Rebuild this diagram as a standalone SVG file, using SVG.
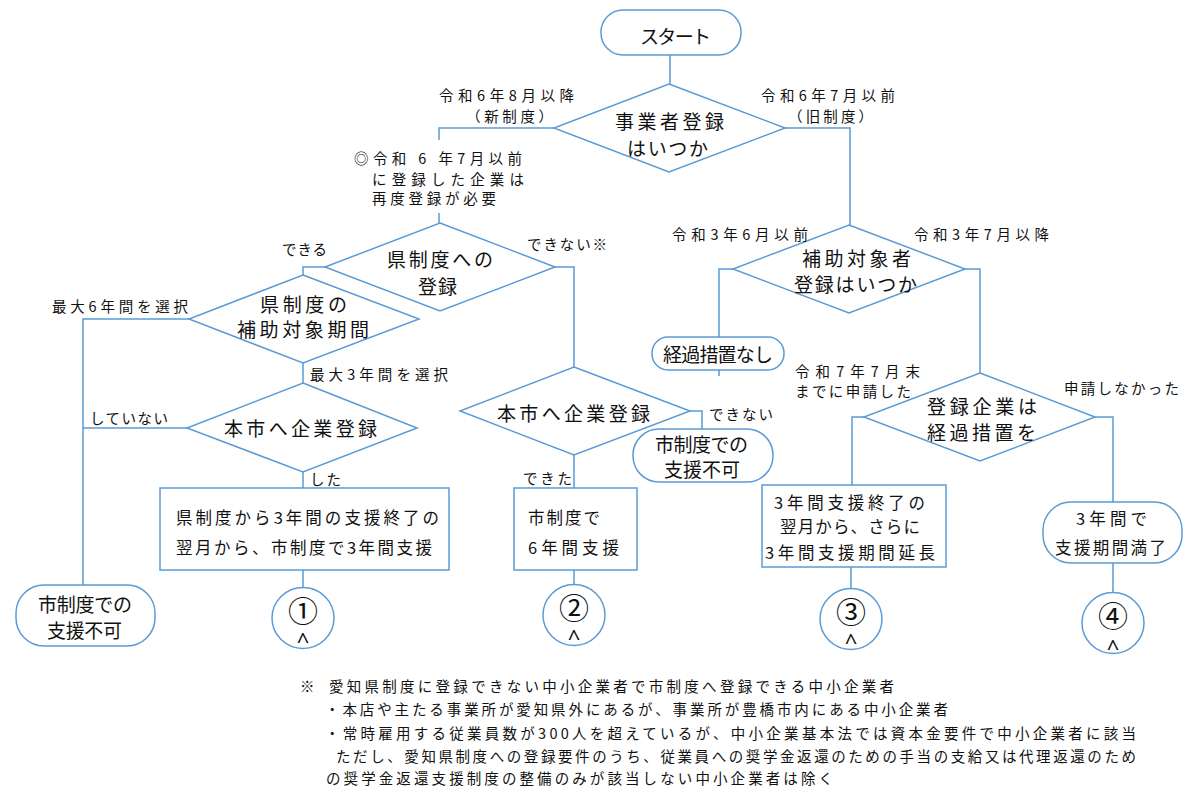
<svg xmlns="http://www.w3.org/2000/svg" width="1201" height="803" viewBox="0 0 1201 803">
<style>
.s{fill:#fff;stroke:#5b9bd5;stroke-width:1.5}
.c{fill:none;stroke:#5b9bd5;stroke-width:1.5}
text{font-family:"Noto Sans CJK JP","Noto Sans",sans-serif;fill:#111;dominant-baseline:central}
.n{font-size:19px}
.l{font-size:14.5px}
.b{font-size:16.5px}
.num{font-size:30px;text-anchor:middle}
.car{font-family:"Noto Sans","DejaVu Sans",sans-serif;font-size:22px;text-anchor:middle;dominant-baseline:auto}
</style>
<rect width="1201" height="803" fill="#fff"/>
<g id="connectors">
<path class="c" d="M670 55V84M554 128H439V140M439 213V223M785 128H850V225M325 267H303V275M555 267H574V367M189 319H83V585M303 363V383M187 428H83M303 472V488M303 570V587M690 411H702V429M574 455V488M574 570V584M733 269H719V376M965 269H980V373M864 417H852V485M1095 417H1113V502M851 567V588M1113 563V593"/>
</g>
<g id="start"><rect class="s" x="601" y="10" width="140" height="45" rx="22"/><text class="n" x="640" y="35" textLength="71">スタート</text></g>
<g id="d1"><polygon class="s" points="669,84 785,128 669,172 554,128"/><text class="n" x="615" y="120" textLength="109">事業者登録</text><text class="n" x="627" y="147" textLength="81">はいつか</text></g>
<g id="lbl-top">
<text class="l" x="439" y="94" textLength="135">令和6年8月以降</text>
<text class="l" x="466" y="115" textLength="87">（新制度）</text>
<text class="l" x="761" y="94" textLength="134">令和6年7月以前</text>
<text class="l" x="788" y="115" textLength="85">（旧制度）</text>
<text class="l" x="354" y="157" textLength="168">◎令和 6 年7月以前</text>
<text class="l" x="372" y="178" textLength="152">に登録した企業は</text>
<text class="l" x="372" y="197" textLength="124">再度登録が必要</text>
</g>
<g id="d2"><polygon class="s" points="440,223 555,267 440,311 325,267"/><text class="n" x="387" y="258" textLength="106">県制度への</text><text class="n" x="418" y="285" textLength="39">登録</text></g>
<g id="lbl-d2"><text class="l" x="282" y="248" textLength="45">できる</text><text class="l" x="527" y="243" textLength="80">できない※</text></g>
<g id="d4"><polygon class="s" points="303,275 419,319 303,363 189,319"/><text class="n" x="260" y="303" textLength="87">県制度の</text><text class="n" x="237" y="328" textLength="132">補助対象期間</text></g>
<g id="lbl-d4"><text class="l" x="52" y="305" textLength="136">最大6年間を選択</text><text class="l" x="310" y="373" textLength="138">最大3年間を選択</text></g>
<g id="d5"><polygon class="s" points="303,383 417,428 303,472 187,428"/><text class="n" x="224" y="427" textLength="153">本市へ企業登録</text></g>
<g id="lbl-d5"><text class="l" x="90" y="417" textLength="78">していない</text><text class="l" x="310" y="478" textLength="31">した</text></g>
<g id="d6"><polygon class="s" points="574,367 690,411 574,455 460,411"/><text class="n" x="497" y="412" textLength="153">本市へ企業登録</text></g>
<g id="lbl-d6"><text class="l" x="709" y="413" textLength="64">できない</text><text class="l" x="523" y="477" textLength="49">できた</text></g>
<g id="ng-mid"><rect class="s" x="633" y="429" width="140" height="53" rx="26"/><text class="n" x="655" y="443" textLength="93">市制度での</text><text class="n" x="664" y="468" textLength="76">支援不可</text></g>
<g id="ng-left"><rect class="s" x="16" y="585" width="139" height="61" rx="28"/><text class="n" x="38" y="603" textLength="94">市制度での</text><text class="n" x="47" y="629" textLength="75">支援不可</text></g>
<g id="box1"><rect class="s" x="160" y="488" width="289" height="82"/><text class="b" x="176" y="517" textLength="263">県制度から3年間の支援終了の</text><text class="b" x="176" y="547" textLength="256">翌月から、市制度で3年間支援</text></g>
<g id="box2"><rect class="s" x="514" y="488" width="123" height="82"/><text class="b" x="528" y="517" textLength="72">市制度で</text><text class="b" x="528" y="547" textLength="91">6年間支援</text></g>
<g id="d3"><polygon class="s" points="849,225 965,269 849,313 733,269"/><text class="n" x="802" y="257" textLength="109">補助対象者</text><text class="n" x="794" y="283" textLength="123">登録はいつか</text></g>
<g id="lbl-d3"><text class="l" x="672" y="233" textLength="136">令和3年6月以前</text><text class="l" x="914" y="233" textLength="135">令和3年7月以降</text></g>
<g id="none"><rect class="s" x="652" y="337" width="132" height="33" rx="16"/><text class="n" x="663" y="353" textLength="110">経過措置なし</text></g>
<g id="d7"><polygon class="s" points="980,373 1095,417 980,461 864,417"/><text class="n" x="927" y="405" textLength="110">登録企業は</text><text class="n" x="927" y="431" textLength="109">経過措置を</text></g>
<g id="lbl-d7"><text class="l" x="795" y="370" textLength="125">令和7年7月末</text><text class="l" x="795" y="390" textLength="116">までに申請した</text><text class="l" x="1064" y="387" textLength="115">申請しなかった</text></g>
<g id="box3"><rect class="s" x="762" y="485" width="184" height="82"/><text class="b" x="774" y="502" textLength="151">3年間支援終了の</text><text class="b" x="780" y="526" textLength="140">翌月から、さらに</text><text class="b" x="765" y="552" textLength="170">3年間支援期間延長</text></g>
<g id="box4"><rect class="s" x="1043" y="502" width="139" height="61" rx="28"/><text class="b" x="1076" y="518" textLength="71">3年間で</text><text class="b" x="1055" y="547" textLength="111">支援期間満了</text></g>
<g id="c1"><ellipse class="s" cx="303" cy="618" rx="31" ry="30.5"/><text class="num" x="303" y="609">①</text><text class="car" x="303" y="649">^</text></g>
<g id="c2"><ellipse class="s" cx="574" cy="615" rx="31" ry="30.5"/><text class="num" x="574" y="606">②</text><text class="car" x="574" y="646">^</text></g>
<g id="c3"><ellipse class="s" cx="851" cy="619" rx="31" ry="30.5"/><text class="num" x="851" y="610">③</text><text class="car" x="851" y="650">^</text></g>
<g id="c4"><ellipse class="s" cx="1113" cy="623" rx="31" ry="30.5"/><text class="num" x="1113" y="614">④</text><text class="car" x="1113" y="656">^</text></g>
<g id="notes">
<text class="l" x="300" y="685">※</text>
<text class="l" x="329" y="685" textLength="565">愛知県制度に登録できない中小企業者で市制度へ登録できる中小企業者</text>
<text class="l" x="325" y="708" textLength="623">・本店や主たる事業所が愛知県外にあるが、事業所が豊橋市内にある中小企業者</text>
<text class="l" x="325" y="732" textLength="811">・常時雇用する従業員数が300人を超えているが、中小企業基本法では資本金要件で中小企業者に該当</text>
<text class="l" x="336" y="755" textLength="800">ただし、愛知県制度への登録要件のうち、従業員への奨学金返還のための手当の支給又は代理返還のため</text>
<text class="l" x="326" y="777" textLength="507">の奨学金返還支援制度の整備のみが該当しない中小企業者は除く</text>
</g>
</svg>
